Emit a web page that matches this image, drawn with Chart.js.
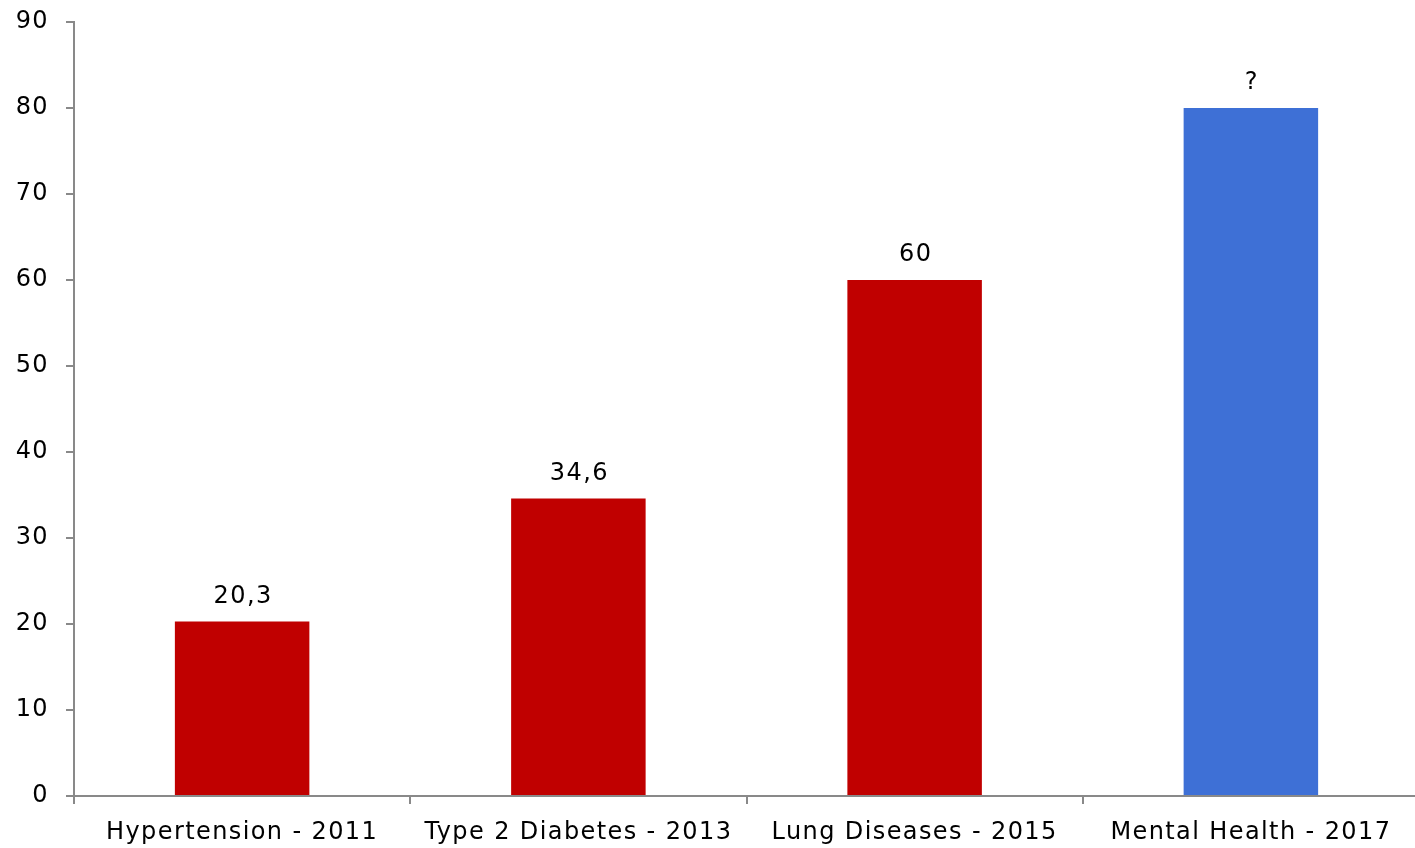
<!DOCTYPE html>
<html>
<head>
<meta charset="utf-8">
<script src="https://cdn.jsdelivr.net/npm/chart.js@4.4.0/dist/chart.umd.min.js"></script>
<style>
  html, body { margin: 0; padding: 0; background: #fff; overflow: hidden; }
  #wrap { width: 1419px; height: 848px; }
</style>
</head>
<body>
<div id="wrap"><canvas id="barChart"></canvas></div>
<script>
// data
var categories = ["Hypertension - 2011", "Type 2 Diabetes - 2013", "Lung Diseases - 2015", "Mental Health - 2017"];
var values = [20.3, 34.6, 60, 80];
var valueLabels = ["20,3", "34,6", "60", "?"];
var barColors = ["#C00000", "#C00000", "#C00000", "#3E70D6"];
var yTicks = [0, 10, 20, 30, 40, 50, 60, 70, 80, 90];

var axisGrey = "#898989";
var fontFam = "'DejaVu Sans', Verdana, sans-serif";
var spacing = "1.4px";

// wider, Verdana-like text
var wideText = {
    id: "wideText",
    beforeDraw: function (chart) {
        chart.ctx.letterSpacing = spacing;
    }
};

// labels above each bar
var barLabels = {
    id: "barLabels",
    afterDatasetsDraw: function (chart) {
        var ctx = chart.ctx;
        var meta = chart.getDatasetMeta(0);
        ctx.save();
        ctx.letterSpacing = spacing;
        ctx.font = "24px " + fontFam;
        ctx.fillStyle = "#000";
        ctx.textAlign = "center";
        ctx.textBaseline = "bottom";
        meta.data.forEach(function (bar, i) {
            ctx.fillText(valueLabels[i], bar.x + 1, bar.y - 13);
        });
        ctx.restore();
    }
};

var ctx = document.getElementById("barChart");
var myChart = new Chart(ctx, {
    type: "bar",
    data: {
        labels: categories,
        datasets: [{
            data: values,
            backgroundColor: barColors,
            borderWidth: 0,
            barPercentage: 0.4,
            categoryPercentage: 1.0
        }]
    },
    options: {
        responsive: true,
        maintainAspectRatio: false,
        animation: false,
        layout: { padding: { top: 22, right: 0, left: 0, bottom: 0 } },
        plugins: {
            legend: { display: false },
            tooltip: { enabled: false }
        },
        scales: {
            x: {
                offset: true,
                grid: {
                    display: true,
                    drawOnChartArea: false,
                    drawTicks: true,
                    tickLength: 8,
                    lineWidth: 2,
                    color: axisGrey,
                    offset: true
                },
                border: { display: true, color: axisGrey, width: 2 },
                ticks: {
                    color: "#000",
                    padding: 14,
                    maxRotation: 0,
                    autoSkip: false,
                    font: { family: fontFam, size: 24 }
                },
                afterFit: function (scale) {
                    scale.height = 52;
                    scale.paddingLeft = 0;
                    scale.paddingRight = 0;
                }
            },
            y: {
                min: 0,
                max: 90,
                afterBuildTicks: function (scale) {
                    scale.ticks = yTicks.map(function (v) { return { value: v }; });
                },
                grid: {
                    display: true,
                    drawOnChartArea: false,
                    drawTicks: true,
                    tickLength: 8,
                    lineWidth: 2,
                    color: axisGrey
                },
                border: { display: true, color: axisGrey, width: 2 },
                ticks: {
                    color: "#000",
                    padding: 17,
                    font: { family: fontFam, size: 24 }
                },
                afterFit: function (scale) {
                    scale.width = 74;
                    scale.paddingTop = 0;
                    scale.paddingBottom = 0;
                }
            }
        }
    },
    plugins: [wideText, barLabels]
});
</script>
</body>
</html>
